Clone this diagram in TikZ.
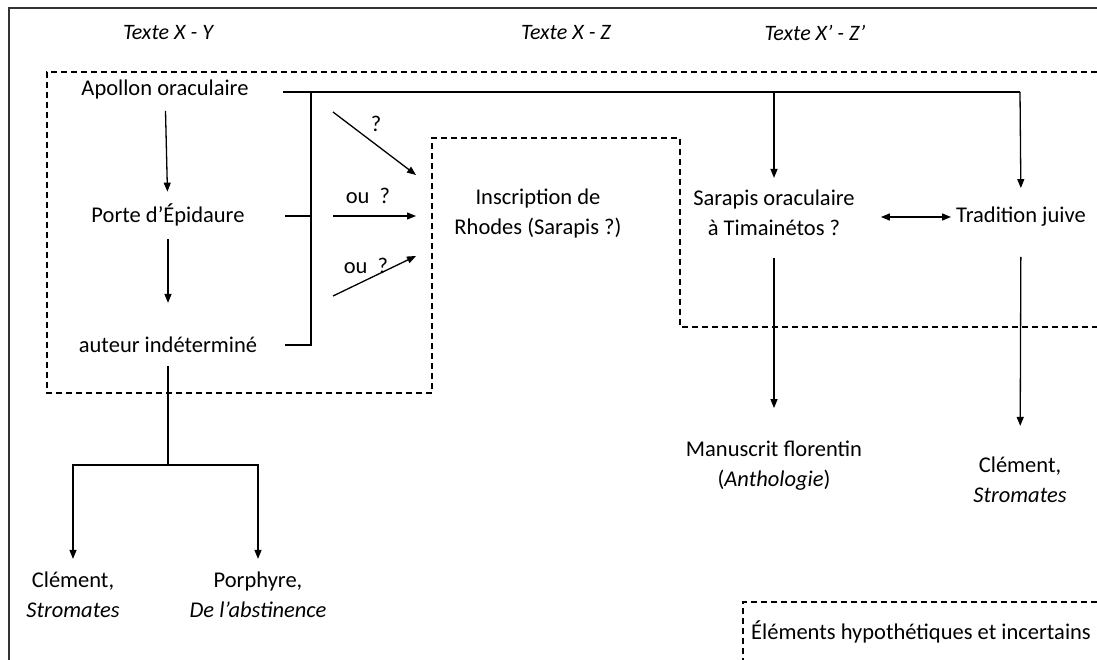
\documentclass[tikz,border=0pt]{standalone}
\usepackage{fontspec}
\setmainfont{Carlito}
\usepackage{tikz}
\usetikzlibrary{positioning}
\usetikzlibrary{arrows.meta}

\begin{document}
\begin{tikzpicture}[x=1pt,y=-1pt,font=\fontsize{22.5}{30}\selectfont,
      txt style/.style={align=center,inner sep=1pt},
      head style/.style={inner sep=1pt,font=\fontsize{22}{30}\selectfont\itshape},
      link/.style={line width=1.3pt},
      arr/.style={link,-{Triangle[length=9pt,width=7pt]}},
      dash style/.style={line width=1.2pt,dash pattern=on 6pt off 4pt}
      ]
      \useasboundingbox (0,0) rectangle (1097,660);
      \draw[line width=1.2pt,black!80] (9,660) -- (9,8) -- (1097,8);

      % zones incertaines
      \draw[dash style] (1097,72) -- (47,72) -- (47,393) -- (432,393) -- (432,138)
        -- (680,138) -- (680,327) -- (1097,327);
      \draw[dash style] (1097,602) -- (743,602) -- (743,660);

      \node[head style] (hXY) at (168,33) {Texte X - Y};
      \node[head style] (hXZ) at (566,33) {Texte X - Z};
      \node[head style] (hXZp) at (815,33) {Texte X’ - Z’};

      \node[txt style] (apollon) at (165,90) {Apollon oraculaire};
      \node[txt style] (porte) at (168,215) {Porte d’Épidaure};
      \node[txt style] (auteur) at (168,345) {auteur indéterminé};
      \node[txt style] (inscr) at (538,214) {Inscription de\\Rhodes (Sarapis ?)};
      \node[txt style] (sarapis) at (774,213) {Sarapis oraculaire\\à Timainétos ?};
      \node[txt style] (tradition) at (1021,217) {Tradition juive};
      \node[txt style] (manus) at (774,466) {Manuscrit florentin\\(\textit{Anthologie})};
      \node[txt style] (clemB) at (1020,480) {Clément,\\\textit{Stromates}};
      \node[txt style] (clemA) at (73,595) {Clément,\\\textit{Stromates}};
      \node[txt style] (porph) at (258,595) {Porphyre,\\\textit{De l’abstinence}};
      \node[txt style] (legende) at (921,632) {Éléments hypothétiques et incertains};

      \coordinate (apEnd) at (283,92);
      \coordinate (poEnd) at (285,216);
      \coordinate (auEnd) at (285,345);
      \coordinate (jTop) at (311,92);
      \coordinate (jMid) at (311,216);
      \coordinate (jBot) at (311,345);
      \coordinate (sarTop) at (774,92);
      \coordinate (traTop) at (1020,92);
      \coordinate (split) at (168,465);

      \draw[link] (apEnd) -- (traTop);
      \draw[link] (jTop) -- (jBot) -- (auEnd);
      \draw[link] (poEnd) -- (jMid);
      \draw[arr,shorten >=11pt] (sarTop) -- (sarapis.north);
      \draw[arr,shorten >=18pt] (traTop) -- (tradition.north);

      \draw[arr,shorten <=10pt,shorten >=11pt] (apollon) -- (porte);
      \draw[arr,shorten <=12pt,shorten >=33pt] (porte) -- (auteur);
      \draw[link,shorten <=12pt] (auteur) -- (split);
      \draw[arr,shorten >=12pt] (split) -| (clemA.north);
      \draw[arr,shorten >=12pt] (split) -| (porph.north);

      % vers l'inscription
      \coordinate (qA) at (333,112);
      \coordinate (qB) at (333,216);
      \coordinate (qC) at (333,296);
      \draw[arr] (qA) -- (416,175);
      \draw[arr] (qB) -- (416,216);
      \draw[arr] (qC) -- (416,256);
      \node[txt style] (lA) at (376,124) {?};
      \node[txt style] (lB) at (368,196) {ou~~?};
      \node[txt style] (lC) at (366,266) {ou~~?};

      \draw[link,{Triangle[length=9pt,width=7pt]}-{Triangle[length=9pt,width=7pt]},
        shorten <=25pt,shorten >=4pt] (sarapis.east |- tradition) -- (tradition.west);
      \draw[arr,shorten <=21pt,shorten >=32pt] (sarapis) -- (manus);
      \draw[arr,shorten <=29pt,shorten >=30pt] (tradition) -- (clemB);
    \end{tikzpicture}
\end{document}
